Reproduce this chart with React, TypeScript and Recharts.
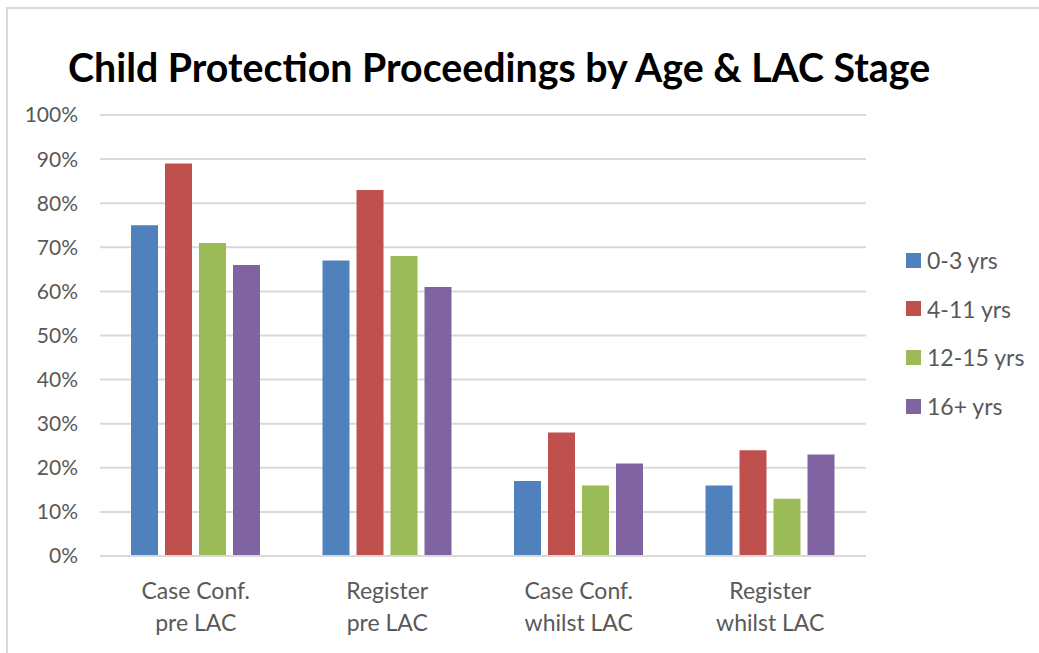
import { BarChart, Bar, XAxis, YAxis, CartesianGrid, Legend } from "recharts";

const categories = ["Case Conf.\npre LAC", "Register\npre LAC", "Case Conf.\nwhilst LAC", "Register\nwhilst LAC"];
const ages0to3 = [75, 67, 17, 16];
const ages4to11 = [89, 83, 28, 24];
const ages12to15 = [71, 68, 16, 13];
const ages16plus = [66, 61, 21, 23];
const yTicks = [0, 10, 20, 30, 40, 50, 60, 70, 80, 90, 100];

const series = [
  { key: "a", name: "0-3 yrs", color: "#4F81BD" },
  { key: "b", name: "4-11 yrs", color: "#C0504D" },
  { key: "c", name: "12-15 yrs", color: "#9BBB59" },
  { key: "d", name: "16+ yrs", color: "#8064A2" },
];

const data = categories.map((cat, i) => ({
  cat,
  a: ages0to3[i],
  b: ages4to11[i],
  c: ages12to15[i],
  d: ages16plus[i],
}));

const FONT = "Lato, 'Open Sans', sans-serif";
const TEXT = "#595959";

function CategoryTick({ x, y, payload }: any) {
  const lines = String(payload.value).split("\n");
  return (
    <text x={x} y={y} textAnchor="middle" fill={TEXT} fontSize={23} fontFamily={FONT}>
      {lines.map((l, i) => (
        <tspan key={i} x={x} dy={i === 0 ? 41 : 32}>{l}</tspan>
      ))}
    </text>
  );
}

function LegendBox() {
  return (
    <div style={{ fontFamily: FONT, width: 133 }}>
      {series.map((s) => (
        <div key={s.key} style={{ display: "flex", alignItems: "center", height: 48.6 }}>
          <span style={{ width: 15, height: 15, background: s.color, display: "inline-block", marginRight: 6 }} />
          <span style={{ fontSize: 23, color: TEXT }}>{s.name}</span>
        </div>
      ))}
    </div>
  );
}

export default function App() {
  return (
    <div style={{ position: "fixed", left: 0, top: 0, width: 1039, height: 653, background: "#fff", overflow: "hidden" }}>
      <div style={{ position: "absolute", left: 6, top: 7, width: 1100, height: 700, borderTop: "2px solid #D9D9D9", borderLeft: "2px solid #D9D9D9" }} />
      <div style={{ position: "absolute", left: 68, top: 43, fontFamily: FONT, fontWeight: 700, fontSize: 39.3, color: "#000", whiteSpace: "nowrap" }}>
        Child Protection Proceedings by Age &amp; LAC Stage
      </div>
      <BarChart
        width={1039}
        height={653}
        data={data}
        margin={{ top: 115, right: 40, bottom: 0, left: 0 }}
        barSize={27}
        barGap={7}
        style={{ position: "absolute", left: 0, top: 0 }}
      >
        <CartesianGrid vertical={false} stroke="#D9D9D9" strokeWidth={2} />
        <XAxis
          dataKey="cat"
          axisLine={{ stroke: "#D9D9D9", strokeWidth: 2 }}
          tickLine={false}
          tickSize={0}
          tick={<CategoryTick />}
          interval={0}
          height={97}
        />
        <YAxis
          domain={[0, 100]}
          ticks={yTicks}
          tickFormatter={(v) => `${v}%`}
          axisLine={false}
          tickLine={false}
          tickSize={0}
          tickMargin={22}
          width={100}
          tick={{ fill: TEXT, fontSize: 21, fontFamily: FONT }}
        />
        <Legend
          layout="vertical"
          align="right"
          verticalAlign="top"
          content={<LegendBox />}
          wrapperStyle={{ left: 906, top: 236, width: 133 }}
        />
        {series.map((s) => (
          <Bar key={s.key} dataKey={s.key} name={s.name} fill={s.color} isAnimationActive={false} />
        ))}
      </BarChart>
    </div>
  );
}
